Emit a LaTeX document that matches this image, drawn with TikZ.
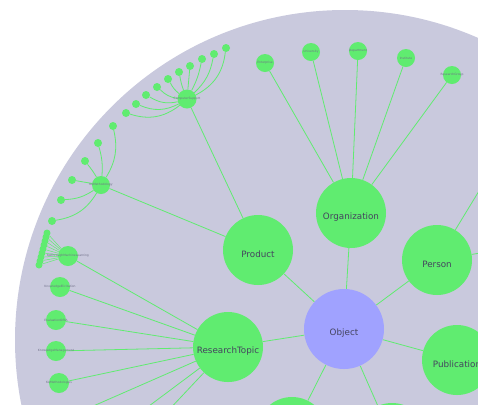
\documentclass[tikz,border=0pt]{standalone}
\usepackage{fontspec}
\setmainfont{DejaVu Sans}
\usetikzlibrary{backgrounds}
\definecolor{ngreen}{HTML}{60EC70}
\definecolor{nblue}{HTML}{A0A2FF}
\definecolor{disk}{HTML}{C9C9DD}
\definecolor{lbl}{HTML}{44445E}
\definecolor{slbl}{HTML}{707088}
\pgfdeclarelayer{bgzero}
\pgfsetlayers{bgzero,background,main}
\tikzset{
  big/.style={circle, fill=ngreen, minimum size=70bp, inner sep=0pt},
  obj/.style={big, fill=nblue, minimum size=80bp},
  bl/.style={font=\fontsize{8.8}{9}\selectfont, text=lbl, inner sep=0pt},
  mid/.style={circle, fill=ngreen, minimum size=18bp, inner sep=0pt},
  sm/.style={circle, fill=ngreen, minimum size=20bp, inner sep=0pt},
  leaf/.style={circle, fill=ngreen, minimum size=8bp, inner sep=0pt},
  blob/.style={circle, fill=ngreen, minimum size=7bp, inner sep=0pt},
  tl/.style={font=\fontsize{3}{3}\selectfont, text=slbl, inner sep=0pt},
  conn/.style={draw=ngreen, line width=0.8pt},
}
\begin{document}
\begin{tikzpicture}[x=1bp,y=-1bp]
\useasboundingbox (0,0) rectangle (478,404);
\clip (0,0) rectangle (478,404);
\begin{pgfonlayer}{bgzero}
\fill[disk] (345,340) circle[radius=330];
\end{pgfonlayer}
% main nodes
\node[obj] (obj) at (344,329) {};
\node[big] (org) at (351,213) {};
\node[big] (prod) at (258,250) {};
\node[big] (pers) at (437,260) {};
\node[big] (rt) at (228,347) {};
\node[big] (pub) at (457,360) {};
\node[big] (b1) at (292,432) {};
\node[big] (b2) at (392,438) {};
\node[bl] at ([yshift=-4bp]obj.center) {Object};
\node[bl] at ([yshift=-4bp]org.center) {Organization};
\node[bl] at ([yshift=-4bp]prod.center) {Product};
\node[bl] at ([yshift=-4bp]pers.center) {Person};
\node[bl] at ([yshift=-4bp]rt.center) {ResearchTopic};
\node[bl] at ([yshift=-4bp]pub.center) {Publication};
% organization children
\node[mid] (ent) at (265,63) {}; \node[tl] at (ent) {Enterprise};
\node[mid] (uni) at (311,52) {}; \node[tl] at (uni) {University};
\node[mid] (dep) at (358,51) {}; \node[tl] at (dep) {Department};
\node[mid] (ins) at (406,58) {}; \node[tl] at (ins) {Institute};
\node[mid] (rg) at (452,75) {}; \node[tl] at (rg) {ResearchGroup};
% computer support
\node[mid, minimum size=19bp] (cs) at (187,99) {};
\node[leaf] (c1) at (226,48) {};
\node[leaf] (c2) at (214,54) {};
\node[leaf] (c3) at (202,59) {};
\node[leaf] (c4) at (190,66) {};
\node[leaf] (c5) at (179,72) {};
\node[leaf] (c6) at (168,79) {};
\node[leaf] (c7) at (157,87) {};
\node[leaf] (c8) at (146,95) {};
\node[leaf] (c9) at (136,104) {};
\node[leaf] (c10) at (126,113) {};
\node[tl] at (cs) {ComputerSupport};
% KA methodology
\node[mid] (km) at (101,185) {};
\node[leaf] (k1) at (113,126) {};
\node[leaf] (k2) at (98,143) {};
\node[leaf] (k3) at (85,161) {};
\node[leaf] (k4) at (72,180) {};
\node[leaf] (k5) at (61,200) {};
\node[leaf] (k6) at (52,221) {};
\node[tl] at (km) {KAMethodology};
% machine learning
\node[sm] (ml) at (68,256) {};
\node[blob] (m1) at (47,233) {};
\node[blob] (m2) at (46,237) {};
\node[blob] (m3) at (45,241) {};
\node[blob] (m4) at (44,245) {};
\node[blob] (m5) at (43,249) {};
\node[blob] (m6) at (42,253) {};
\node[blob] (m7) at (41,257) {};
\node[blob] (m8) at (40,261) {};
\node[blob] (m9) at (39,265) {};
\node[tl] at (ml) {KAThroughMachineLearning};
% research topic children
\node[sm] (ke) at (60,287) {}; \node[tl] at (ke) {KnowledgeElicitation};
\node[sm] (ev) at (56,320) {}; \node[tl] at (ev) {EvaluationOfKA};
\node[sm] (kmg) at (56,351) {}; \node[tl] at (kmg) {KnowledgeManagement};
\node[sm] (kam) at (59,383) {}; \node[tl] at (kam) {KAMethodologies};
% off-screen ends
\coordinate (o1) at (-30,460);
\coordinate (o2) at (70,465);
\coordinate (o3) at (150,430);
\coordinate (p1) at (510,140);
\coordinate (p2) at (530,245);
\begin{pgfonlayer}{background}
\draw[conn] (obj) -- (org);
\draw[conn] (obj) -- (prod);
\draw[conn] (obj) -- (pers);
\draw[conn] (obj) -- (rt);
\draw[conn] (obj) -- (pub);
\draw[conn] (obj) -- (b1);
\draw[conn] (obj) -- (b2);
\draw[conn] (org) -- (ent);
\draw[conn] (org) -- (uni);
\draw[conn] (org) -- (dep);
\draw[conn] (org) -- (ins);
\draw[conn] (org) -- (rg);
\draw[conn] (pers) -- (p1);
\draw[conn] (pers) -- (p2);
\draw[conn] (prod) -- (cs);
\draw[conn] (prod) -- (km);
\draw[conn] (cs) to[bend right=28] (c1);
\draw[conn] (cs) to[bend right=18] (c2);
\draw[conn] (cs) to[bend right=8] (c3);
\draw[conn] (cs) to (c4);
\draw[conn] (cs) to[bend left=5] (c5);
\draw[conn] (cs) to[bend left=12] (c6);
\draw[conn] (cs) to[bend left=18] (c7);
\draw[conn] (cs) to[bend left=22] (c8);
\draw[conn] (cs) to[bend left=25] (c9);
\draw[conn] (cs) to[bend left=28] (c10);
\draw[conn] (km) to[bend right=22] (k1);
\draw[conn] (km) to[bend right=10] (k2);
\draw[conn] (km) to[bend right=4] (k3);
\draw[conn] (km) to (k4);
\draw[conn] (km) to[bend left=15] (k5);
\draw[conn] (km) to[bend left=25] (k6);
\foreach \m in {m1,m2,m3,m4,m5,m6,m7,m8,m9} { \draw[conn, line width=0.5pt] (ml) -- (\m); }
\draw[conn] (rt) -- (ml);
\draw[conn] (rt) -- (ke);
\draw[conn] (rt) -- (ev);
\draw[conn] (rt) -- (kmg);
\draw[conn] (rt) -- (kam);
\draw[conn] (rt) -- (o1);
\draw[conn] (rt) -- (o2);
\draw[conn] (rt) -- (o3);
\end{pgfonlayer}
\end{tikzpicture}
\end{document}
